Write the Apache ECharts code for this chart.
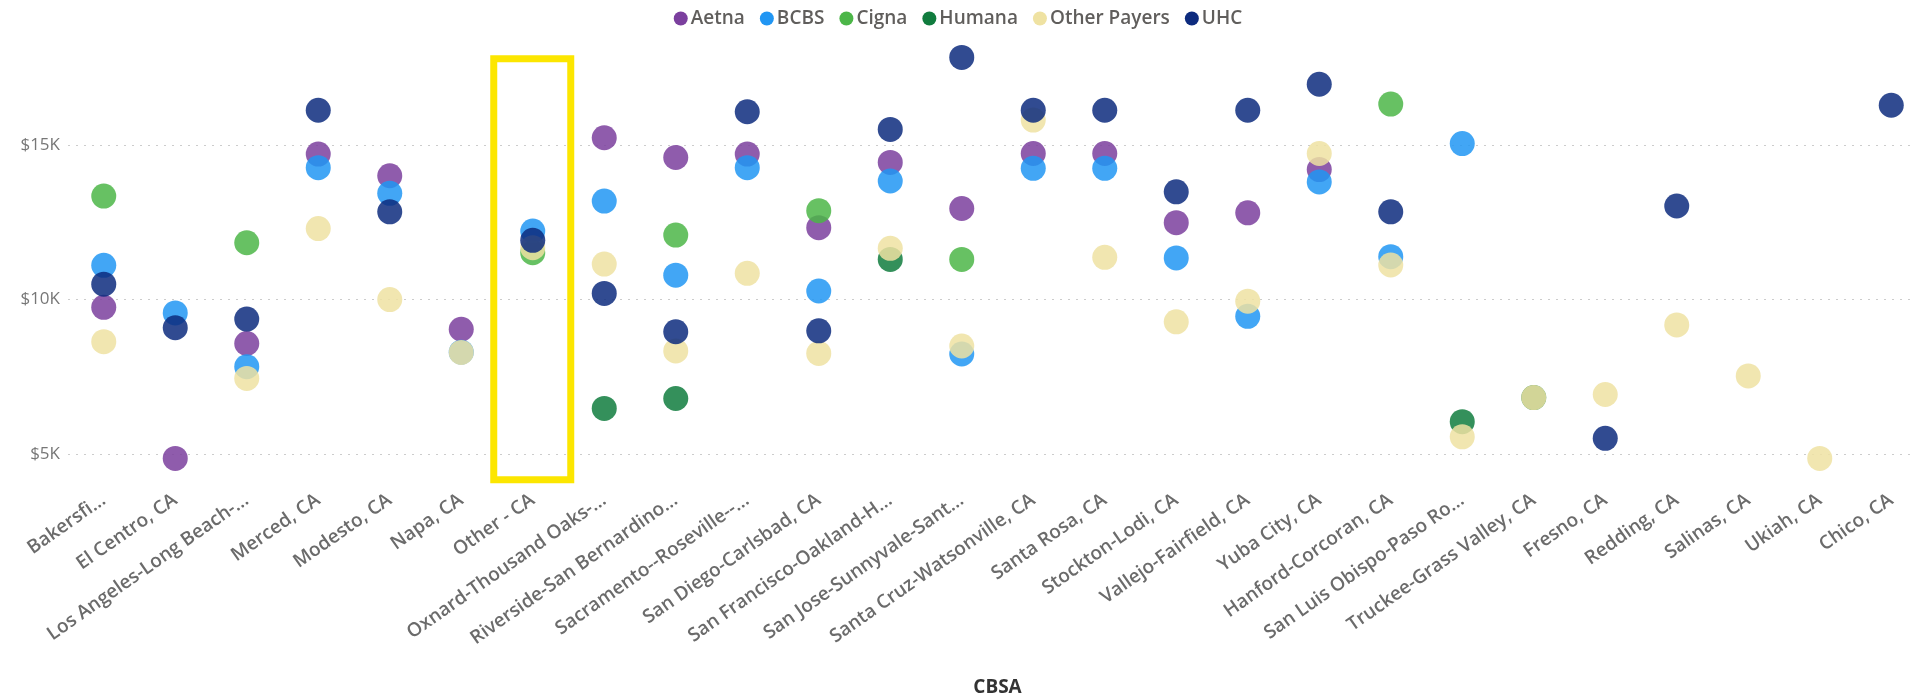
<!DOCTYPE html>
<html>
<head>
<meta charset="utf-8">
<script src="https://cdn.jsdelivr.net/npm/echarts@6/dist/echarts.min.js"></script>
<style>
html,body{margin:0;padding:0;background:#fff;overflow:hidden;}
#chart{width:1916px;height:696px;}
</style>
</head>
<body>
<div id="chart"></div>
<script>
const categories = ["Bakersfi...","El Centro, CA","Los Angeles-Long Beach-...","Merced, CA","Modesto, CA","Napa, CA","Other - CA","Oxnard-Thousand Oaks-...","Riverside-San Bernardino...","Sacramento--Roseville--...","San Diego-Carlsbad, CA","San Francisco-Oakland-H...","San Jose-Sunnyvale-Sant...","Santa Cruz-Watsonville, CA","Santa Rosa, CA","Stockton-Lodi, CA","Vallejo-Fairfield, CA","Yuba City, CA","Hanford-Corcoran, CA","San Luis Obispo-Paso Ro...","Truckee-Grass Valley, CA","Fresno, CA","Redding, CA","Salinas, CA","Ukiah, CA","Chico, CA"];
const seriesNames = ["Aetna","BCBS","Cigna","Humana","Other Payers","UHC"];
const aetna  = [9750,4860,8580,14710,14010,9040,null,15240,14600,14710,12330,14440,12950,14730,14730,12490,12810,14210,null,null,null,null,null,null,null,null];
const bcbs   = [11110,9570,7830,14270,13440,8300,12220,13190,10790,14270,10280,13840,8240,14250,14250,11350,9460,13810,11390,15050,null,null,null,null,null,null];
const cigna  = [13350,null,11840,null,null,null,11520,null,12090,null,12880,null,11300,null,null,null,null,null,16330,null,null,null,null,null,null,null];
const humana = [null,null,null,null,null,null,null,6480,6800,null,null,11300,null,null,null,null,null,null,null,6050,6830,null,null,null,null,null];
const otherPayers = [8640,null,7450,12300,10000,8290,11680,11150,8340,10850,8260,11660,8500,15810,11370,9280,9950,14730,11120,5560,6830,6930,9180,7530,4860,null];
const uhc    = [10500,9090,9370,16130,12840,null,11920,10200,8960,16080,8990,15510,17840,16130,16130,13490,16130,16970,12840,null,null,5510,13030,null,null,16290];
const yTicks = [5000,10000,15000];
const highlightCategory = "Other - CA";
const highlightRange = [4170, 17800];

const colors = ["#7B3F9E","#2196F3","#4CB648","#117C3E","#EFE2A2","#0D2B7E"];
const values = [aetna,bcbs,cigna,humana,otherPayers,uhc];

const chart = echarts.init(document.getElementById('chart'), null, {renderer:'canvas'});
const series = seriesNames.map((n,i)=>({
  name:n, type:'scatter', symbol:'circle', symbolSize:25,
  itemStyle:{color:colors[i], opacity:0.85},
  emphasis:{disabled:true},
  data: values[i].map((v,j)=> v==null ? null : [categories[j], v])
}));

chart.setOption({
  animation:false,
  color:colors,
  legend:{
    top:4, left:'center', icon:'circle', itemWidth:14, itemHeight:14, itemGap:15,
    data:seriesNames,
    itemStyle:{opacity:1},
    textStyle:{fontFamily:'Open Sans', fontSize:19, fontWeight:600, color:'#605E5C', padding:[0,0,0,-2]}
  },
  grid:{left:68, top:37, width:1859, height:448, containLabel:false, outerBoundsMode:'none'},
  xAxis:{
    type:'category', data:categories, boundaryGap:true,
    axisLine:{show:false}, axisTick:{show:false}, splitLine:{show:false},
    axisLabel:{interval:0, rotate:35, margin:13, fontFamily:'Open Sans', fontSize:19, fontWeight:600, color:'#6b6b6b'},
    name:'CBSA', nameLocation:'middle', nameGap:193,
    nameTextStyle:{fontFamily:'Open Sans', fontSize:19, fontWeight:700, color:'#333'}
  },
  yAxis:{
    type:'value', min:4000, max:18500,
    axisLine:{show:false},
    axisTick:{show:false, customValues:yTicks},
    axisLabel:{customValues:yTicks, margin:8, fontFamily:'Open Sans', fontSize:17, color:'#777',
      formatter:v=>'$'+(v/1000)+'K'},
    splitLine:{show:true, lineStyle:{color:'#cccccc', width:1.2, type:[2,6]}}
  },
  series:series
});

function drawHighlight(){
  const cx = chart.convertToPixel({xAxisIndex:0}, highlightCategory);
  const yTop = chart.convertToPixel({yAxisIndex:0}, highlightRange[1]);
  const yBot = chart.convertToPixel({yAxisIndex:0}, highlightRange[0]);
  chart.setOption({graphic:[{
    type:'rect', z:100, silent:true,
    shape:{x:cx-39, y:yTop, width:77, height:yBot-yTop},
    style:{fill:'none', stroke:'#FCE600', lineWidth:7}
  }]});
}
drawHighlight();
</script>
</body>
</html>
